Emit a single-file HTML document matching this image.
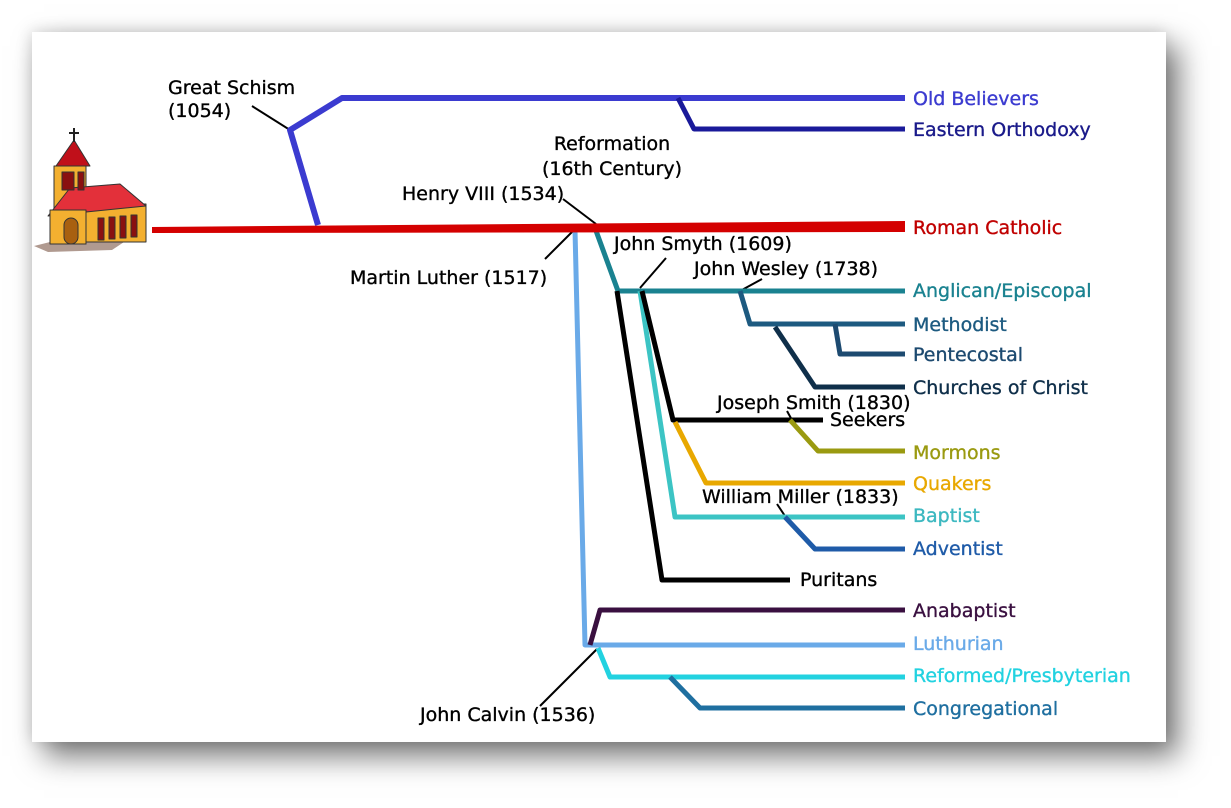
<!DOCTYPE html>
<html><head><meta charset="utf-8"><style>
html,body{margin:0;padding:0;background:#fff;width:1231px;height:808px;overflow:hidden}
.card{position:absolute;left:32px;top:32px;width:1134px;height:710px;background:#fff;box-shadow:12px 14px 28px rgba(0,0,0,0.55),-2px -2px 14px rgba(0,0,0,0.12)}
svg{position:absolute;left:0;top:0}
text{font-family:"DejaVu Sans","Liberation Sans",sans-serif;font-size:19px;stroke-width:0.35px}
</style></head><body>
<div class="card"></div>
<svg width="1231" height="808" viewBox="0 0 1231 808">
<g fill="none" stroke-linejoin="round">
<!-- church -->
<g stroke="#333" stroke-width="1">
<polygon points="34,246 66,238 130,238 112,250 48,252" fill="#b09a90" stroke="none"/>
<rect x="54" y="166" width="32" height="78" fill="#f3b030"/>
<rect x="86" y="204" width="60" height="38" fill="#f3b030"/>
<polygon points="48,216 70,188 120,184 146,206 86,212" fill="#e3303a"/>
<rect x="50" y="210" width="36" height="34" fill="#f3b030"/>
<polygon points="56,166 74,140 90,166" fill="#c0101a"/>
<rect x="62" y="172" width="12" height="18" fill="#8a1010"/>
<rect x="78" y="172" width="6" height="18" fill="#8a1010"/>
<rect x="64" y="218" width="14" height="26" rx="7" fill="#a86010"/>
<rect x="98" y="218" width="6" height="22" fill="#8a1010"/><rect x="109" y="217" width="6" height="22" fill="#8a1010"/><rect x="120" y="216" width="6" height="22" fill="#8a1010"/><rect x="131" y="215" width="6" height="22" fill="#8a1010"/>
</g>
<line x1="74" y1="128" x2="74" y2="142" stroke="#222" stroke-width="2"/><line x1="69" y1="133" x2="79" y2="133" stroke="#222" stroke-width="2"/>

<g stroke="#000" stroke-width="2">
<line x1="252" y1="106" x2="290" y2="130"/>
<line x1="563" y1="199" x2="596" y2="224"/>
<line x1="545" y1="259" x2="575" y2="229"/>
<line x1="666" y1="258" x2="640" y2="288"/>
<line x1="762" y1="279" x2="740" y2="291"/>
<line x1="787" y1="411" x2="792" y2="420"/>
<line x1="777" y1="504" x2="785" y2="516"/>
<line x1="540" y1="706" x2="597" y2="649"/>
</g>
<polyline points="318,225 290,130 342,98 905,98" stroke="#3b3bd0" stroke-width="6"/>
<polyline points="678,98 694,129 905,129" stroke="#1a1a9a" stroke-width="5"/>
<polyline points="575,230 585,645 905,645" stroke="#6aaae8" stroke-width="5"/>
<polyline points="590,645 600,610 905,610" stroke="#3a1040" stroke-width="5"/>
<polyline points="598,648 610,677 905,677" stroke="#22d2e0" stroke-width="5"/>
<polyline points="670,677 700,708 905,708" stroke="#1f6fa0" stroke-width="5"/>
<polyline points="595,228 618,291 905,291" stroke="#1a8290" stroke-width="5"/>
<polyline points="617,291 662,580 790,580" stroke="#000" stroke-width="5"/>
<polyline points="640,291 675,517 905,517" stroke="#3cc4c4" stroke-width="5"/>
<polyline points="642,291 673,420 823,420" stroke="#000" stroke-width="5"/>
<polyline points="675,422 706,483 905,483" stroke="#e8a800" stroke-width="5"/>
<polyline points="790,420 818,451 905,451" stroke="#9a9a10" stroke-width="5"/>
<polyline points="785,517 815,549 905,549" stroke="#1f5ba8" stroke-width="5"/>
<polyline points="740,291 750,324 905,324" stroke="#1d5a80" stroke-width="5"/>
<polyline points="835,324 840,354 905,354" stroke="#1d4a70" stroke-width="5"/>
<polyline points="775,327 815,387 905,387" stroke="#0f2f4a" stroke-width="5"/>
<polygon points="152,227 905,221 905,232 152,233" fill="#d40000" stroke="none"/>
</g>
<g fill="#000" stroke="#000">
<text x="168" y="94">Great Schism</text>
<text x="168" y="117">(1054)</text>
<text x="612" y="150" text-anchor="middle">Reformation</text>
<text x="612" y="175" text-anchor="middle">(16th Century)</text>
<text x="402" y="200">Henry VIII (1534)</text>
<text x="350" y="284">Martin Luther (1517)</text>
<text x="614" y="250">John Smyth (1609)</text>
<text x="694" y="275">John Wesley (1738)</text>
<text x="717" y="409">Joseph Smith (1830)</text>
<text x="830" y="426">Seekers</text>
<text x="702" y="503">William Miller (1833)</text>
<text x="800" y="586">Puritans</text>
<text x="420" y="721">John Calvin (1536)</text>
</g>
<g>
<text x="913" y="105" fill="#3b3bd0" stroke="#3b3bd0">Old Believers</text>
<text x="913" y="136" fill="#1a1a8a" stroke="#1a1a8a">Eastern Orthodoxy</text>
<text x="913" y="234" fill="#c00000" stroke="#c00000">Roman Catholic</text>
<text x="913" y="297" fill="#1a8290" stroke="#1a8290">Anglican/Episcopal</text>
<text x="913" y="331" fill="#1d5a80" stroke="#1d5a80">Methodist</text>
<text x="913" y="361" fill="#1d4a70" stroke="#1d4a70">Pentecostal</text>
<text x="913" y="394" fill="#0f2f4a" stroke="#0f2f4a">Churches of Christ</text>
<text x="913" y="459" fill="#9a9a10" stroke="#9a9a10">Mormons</text>
<text x="913" y="490" fill="#e8a800" stroke="#e8a800">Quakers</text>
<text x="913" y="522" fill="#3cb8c0" stroke="#3cb8c0">Baptist</text>
<text x="913" y="555" fill="#1f5ba8" stroke="#1f5ba8">Adventist</text>
<text x="913" y="617" fill="#3a1040" stroke="#3a1040">Anabaptist</text>
<text x="913" y="650" fill="#6aaae8" stroke="#6aaae8">Luthurian</text>
<text x="913" y="682" fill="#22d2e0" stroke="#22d2e0">Reformed/Presbyterian</text>
<text x="913" y="715" fill="#1f6fa0" stroke="#1f6fa0">Congregational</text>
</g>
</svg>
</body></html>
